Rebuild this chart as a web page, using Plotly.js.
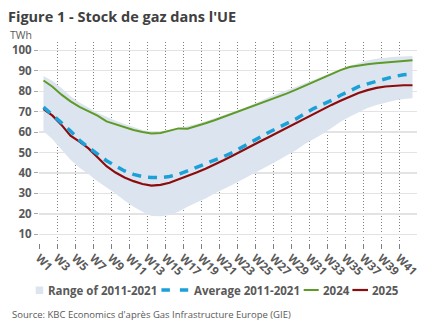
<!DOCTYPE html>
<html>
<head>
<meta charset="utf-8">
<script src="https://cdn.plot.ly/plotly-3.0.1.min.js"></script>
<style>
  html, body { margin: 0; padding: 0; background: #ffffff; }
  #chart { width: 432px; height: 334px; }
</style>
</head>
<body>
<div id="chart"></div>
<script>
// ---- Data ----
const weeks = [1, 2, 3, 4, 5, 6, 7, 8, 9, 10, 11, 12, 13, 14, 15, 16, 17, 18, 19, 20, 21,
               22, 23, 24, 25, 26, 27, 28, 29, 30, 31, 32, 33, 34, 35, 36, 37, 38, 39, 40, 41, 42];

const rangeLow = [60.5, 56.5, 51.5, 46.5, 42.5, 39.5, 36, 33, 30, 26.5, 23.5, 21, 19, 18.8,
                  19.5, 21, 23.5, 25.5, 27.5, 30, 32, 34.2, 36.5, 38.8, 41, 43.5, 46, 48.5,
                  51, 54, 56.5, 59, 62, 65, 67.5, 69.8, 71.8, 73.3, 74.5, 75.5, 76.2, 76.5];

const rangeHigh = [87.4, 85, 81.5, 77.5, 74.5, 72, 69.5, 67.5, 65.5, 64, 62.5, 61, 60, 60,
                   60.8, 61.8, 62.8, 64, 65.3, 66.7, 68.2, 69.7, 71.3, 73, 75, 77, 78.8, 80.5,
                   82, 83.8, 85.5, 87.3, 89, 90.7, 92.3, 93.8, 95, 95.8, 96.4, 96.8, 97, 97.2];

const average = [72.2, 68.5, 64.5, 60.5, 56, 52.5, 49, 46, 43.5, 41, 39.3, 38.2, 37.8, 37.7,
                 38.3, 39.4, 41, 42.7, 44.3, 46, 48, 50, 52.5, 55, 57.5, 59.8, 62, 64, 66.3,
                 69, 71.5, 73.5, 75.5, 78, 80.3, 82.2, 83.6, 84.8, 86.2, 87.2, 88, 88.5];

const y2024 = [85.2, 82.2, 78.3, 75, 72.3, 70, 68, 65.2, 63.7, 62.3, 61, 60, 59.3, 59.6,
               60.6, 61.8, 61.6, 62.8, 64.3, 65.8, 67.4, 69, 70.6, 72.2, 73.8, 75.4, 77.1,
               78.8, 80.6, 82.6, 84.6, 86.6, 88.4, 90.3, 91.8, 92.6, 93.2, 93.7, 94.1, 94.4,
               94.8, 95.1];

const y2025 = [71.2, 68, 63.5, 58.2, 55.3, 52, 47.7, 43.3, 40.2, 37.8, 36, 34.6, 33.8, 34.2,
               35.2, 36.8, 38.3, 40.2, 42.1, 44, 46.2, 48.4, 50.8, 53, 55.3, 57.5, 59.8, 62.2,
               64.5, 66.8, 69, 71.2, 73.3, 75.3, 77.3, 79.1, 80.5, 81.6, 82.3, 82.7, 82.9, 82.9];

// Tick labels (every second week) and the week each one belongs to
const tickLabels = ['W1', 'W3', 'W5', 'W7', 'W9', 'W11', 'W13', 'W15', 'W17', 'W19', 'W21',
                    'W23', 'W25', 'W27', 'W29', 'W31', 'W33', 'W35', 'W37', 'W39', 'W41'];
const tickWeeks = [1, 3, 5, 7, 9, 11, 13, 15, 17, 19, 21, 23, 25, 27, 29, 31, 33, 35, 37, 39, 41];

const seriesNames = ['Range of 2011-2021', 'Average 2011-2021', '2024', '2025'];
const yTicks = [10, 20, 30, 40, 50, 60, 70, 80, 90, 100];

// ---- Styles ----
const C_BAND = '#dce4f0';
const C_AVG = '#1ba1d8';
const C_2024 = '#5e9b26';
const C_2025 = '#8c0c0c';
const C_TEXT = '#595959';
const FONT = 'Open Sans, Noto Sans, sans-serif';

const traces = [
  { x: weeks, y: rangeLow, type: 'scatter', mode: 'lines', line: { width: 0, color: C_BAND },
    showlegend: false, hoverinfo: 'skip', name: seriesNames[0] + ' low' },
  { x: weeks, y: rangeHigh, type: 'scatter', mode: 'lines', line: { width: 0, color: C_BAND },
    fill: 'tonexty', fillcolor: C_BAND, showlegend: false, name: seriesNames[0] },
  { x: weeks, y: y2024, type: 'scatter', mode: 'lines', line: { width: 2, color: C_2024 },
    showlegend: false, name: seriesNames[2] },
  { x: weeks, y: y2025, type: 'scatter', mode: 'lines', line: { width: 2.2, color: C_2025 },
    showlegend: false, name: seriesNames[3] },
  { x: weeks, y: average, type: 'scatter', mode: 'lines',
    line: { width: 3.5, color: C_AVG, dash: '9px,7px' }, showlegend: false, name: seriesNames[1] }
];

// plot-area pixel geometry helpers for legend/annotation placement
const L = 39.3, R = 417.3, T = 42, B = 243;
const px = v => (v - L) / (R - L);
const py = v => (B - v) / (B - T);

const legY = 290;
const legendFont = { family: FONT, size: 11.5, color: C_TEXT, weight: 'bold' };

const layout = {
  width: 432, height: 334,
  margin: { l: L, r: 432 - R, t: T, b: 334 - B, pad: 0 },
  paper_bgcolor: '#ffffff', plot_bgcolor: '#ffffff',
  showlegend: false,
  title: {
    text: "Figure 1 - Stock de gaz dans l'UE",
    font: { family: FONT, size: 14.5, color: '#404040', weight: 'bold' },
    x: 8 / 432, xanchor: 'left', xref: 'container',
    y: 1 - 16.5 / 334, yanchor: 'middle', yref: 'container'
  },
  xaxis: {
    type: 'linear', range: [0.5, 42.5], fixedrange: true,
    tickmode: 'array', tickvals: tickWeeks.map(w => w - 0.5), ticktext: tickLabels,
    tickangle: 45, ticks: 'outside', ticklen: 5, tickcolor: '#7f7f7f', tickwidth: 1,
    ticklabelstandoff: -2,
    showgrid: true, gridcolor: '#7f7f7f', gridwidth: 1, griddash: '1px,2px',
    showline: false, zeroline: false,
    tickfont: { family: FONT, size: 11.5, color: C_TEXT, weight: 'bold' }
  },
  yaxis: {
    range: [5.75, 104.05], fixedrange: true,
    tickmode: 'array', tickvals: yTicks,
    ticks: 'outside', ticklen: 4, tickcolor: '#a6a6a6', tickwidth: 1,
    showgrid: true, gridcolor: '#e3e3e3', gridwidth: 1.3,
    showline: false, zeroline: false,
    tickfont: { family: FONT, size: 11.5, color: C_TEXT, weight: 'bold' }
  },
  annotations: [
    { text: 'TWh', xref: 'paper', yref: 'paper', x: px(8), y: py(34.5), xanchor: 'left',
      yanchor: 'middle', showarrow: false, font: { family: FONT, size: 10.5, color: C_TEXT } },
    { text: "Source: KBC Economics d'après Gas Infrastructure Europe (GIE)", xref: 'paper',
      yref: 'paper', x: px(10), y: py(314), xanchor: 'left', yanchor: 'middle', showarrow: false,
      font: { family: FONT, size: 9.5, color: C_TEXT } },
    { text: seriesNames[0], xref: 'paper', yref: 'paper', x: px(46), y: py(legY),
      xanchor: 'left', yanchor: 'middle', showarrow: false, font: legendFont },
    { text: seriesNames[1], xref: 'paper', yref: 'paper', x: px(192), y: py(legY),
      xanchor: 'left', yanchor: 'middle', showarrow: false, font: legendFont },
    { text: seriesNames[2], xref: 'paper', yref: 'paper', x: px(321), y: py(legY),
      xanchor: 'left', yanchor: 'middle', showarrow: false, font: legendFont },
    { text: seriesNames[3], xref: 'paper', yref: 'paper', x: px(370), y: py(legY),
      xanchor: 'left', yanchor: 'middle', showarrow: false, font: legendFont }
  ],
  shapes: [
    { type: 'rect', xref: 'paper', yref: 'paper', x0: px(36), x1: px(43.5), y0: py(294),
      y1: py(286.5), fillcolor: C_BAND, line: { width: 0 } },
    { type: 'line', xref: 'paper', yref: 'paper', x0: px(161.7), x1: px(188.5), y0: py(legY),
      y1: py(legY), line: { color: C_AVG, width: 3.5, dash: '8.5px,10px' } },
    { type: 'line', xref: 'paper', yref: 'paper', x0: px(304), x1: px(319), y0: py(legY),
      y1: py(legY), line: { color: C_2024, width: 2 } },
    { type: 'line', xref: 'paper', yref: 'paper', x0: px(352.7), x1: px(368.3), y0: py(legY),
      y1: py(legY), line: { color: C_2025, width: 2.2 } }
  ]
};

Plotly.newPlot('chart', traces, layout, { staticPlot: true, displayModeBar: false });
</script>
</body>
</html>
